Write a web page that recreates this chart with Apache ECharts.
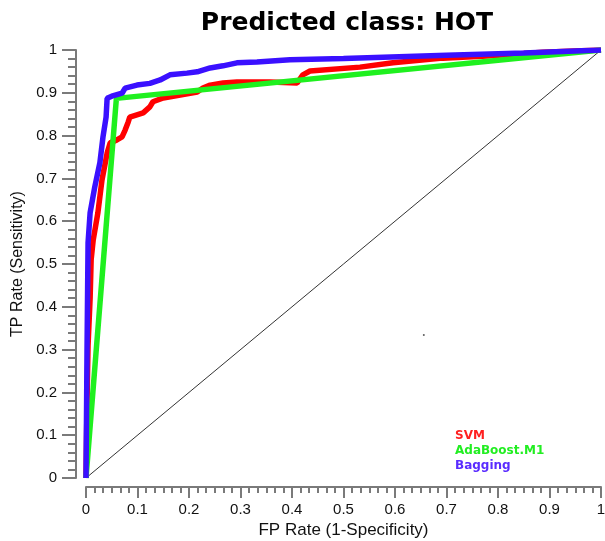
<!DOCTYPE html>
<html>
<head>
<meta charset="utf-8">
<script src="https://cdn.jsdelivr.net/npm/echarts@6/dist/echarts.min.js"></script>
<style>html,body{margin:0;padding:0;background:#fff}#c{width:605px;height:541px}</style>
</head>
<body>
<div id="c"></div>
<script>
const seriesNames = ['SVM', 'AdaBoost.M1', 'Bagging'];
const svmPoints = [
  [0,0],[0.002,0.18],[0.004,0.31],[0.008,0.42],[0.010,0.51],[0.014,0.556],[0.023,0.619],[0.031,0.696],
  [0.041,0.759],[0.047,0.783],[0.060,0.790],[0.070,0.797],[0.076,0.813],[0.082,0.832],[0.085,0.843],
  [0.111,0.853],[0.124,0.867],[0.130,0.879],[0.150,0.888],[0.183,0.895],[0.216,0.902],[0.227,0.911],
  [0.241,0.918],[0.266,0.923],[0.293,0.925],[0.357,0.925],[0.410,0.923],[0.421,0.942],[0.435,0.951],
  [0.532,0.960],[0.596,0.970],[0.693,0.981],[0.779,0.986],[0.887,0.995],[1,1]
];
const adaPoints = [[0,0],[0.059,0.887],[1,1]];
const baggingPoints = [
  [0,0],[0.002,0.30],[0.004,0.55],[0.008,0.62],[0.017,0.68],[0.027,0.737],[0.033,0.797],
  [0.039,0.843],[0.041,0.887],[0.050,0.892],[0.070,0.899],[0.076,0.911],[0.099,0.918],
  [0.124,0.922],[0.144,0.930],[0.163,0.942],[0.196,0.946],[0.216,0.949],[0.241,0.958],
  [0.266,0.963],[0.293,0.970],[0.332,0.972],[0.396,0.977],[0.5,0.980],[0.7,0.988],[0.85,0.993],[1,1]
];
const diagonal = [[0,0],[1,1]];
const strayDot = [[0.656,0.334]];
const xTicks = [0,0.1,0.2,0.3,0.4,0.5,0.6,0.7,0.8,0.9,1];
const yTicks = [0,0.1,0.2,0.3,0.4,0.5,0.6,0.7,0.8,0.9,1];

const tickFmt = ticks => v => {
  const i = ticks.findIndex(t => Math.abs(t - v) < 1e-6);
  return i >= 0 ? String(ticks[i]) : '';
};

const chart = echarts.init(document.getElementById('c'), null, {renderer:'canvas'});
const axisColor = '#7a7a7a';
const labelFont = {fontFamily: 'Liberation Sans', fontSize: 15, color: '#111'};
chart.setOption({
  animation: false,
  backgroundColor: '#fff',
  title: {
    text: 'Predicted class: HOT',
    left: 342, top: 6, textAlign: 'center',
    textStyle: {fontFamily: 'DejaVu Sans', fontWeight: 'bold', fontSize: 25, color: '#000'}
  },
  legend: {
    orient: 'vertical', left: 450, top: 425, itemGap: 3,
    itemWidth: 0, itemHeight: 0, icon: 'rect',
    data: [
      {name: seriesNames[0], textStyle: {color: '#ff2020'}},
      {name: seriesNames[1], textStyle: {color: '#22ee22'}},
      {name: seriesNames[2], textStyle: {color: '#5a2cff'}}
    ],
    textStyle: {fontFamily: 'DejaVu Sans', fontSize: 12, fontWeight: 'bold', padding: [0,0,0,-5]}
  },
  grid: {left: 86, right: 4, top: 50, bottom: 63, containLabel: false, outerBoundsMode: 'none'},
  xAxis: {
    type: 'value', min: 0, max: 1, interval: 0.1, offset: 9,
    name: 'FP Rate (1-Specificity)', nameLocation: 'middle', nameGap: 29,
    nameTextStyle: {fontFamily: 'Liberation Sans', fontSize: 17, color: '#111'},
    axisLine: {show: true, onZero: false, lineStyle: {color: axisColor, width: 2}},
    axisTick: {show: true, length: 11, lineStyle: {color: axisColor, width: 2}},
    minorTick: {show: true, splitNumber: 6, length: 6, lineStyle: {color: axisColor, width: 2}},
    splitLine: {show: false},
    axisLabel: Object.assign({margin: 15, formatter: tickFmt(xTicks)}, labelFont)
  },
  yAxis: {
    type: 'value', min: 0, max: 1, interval: 0.1, offset: 10,
    name: 'TP Rate (Sensitivity)', nameLocation: 'middle', nameGap: 47, nameRotate: 90,
    nameTextStyle: {fontFamily: 'Liberation Sans', fontSize: 16, color: '#111'},
    axisLine: {show: true, onZero: false, lineStyle: {color: axisColor, width: 2}},
    axisTick: {show: true, length: 14, lineStyle: {color: axisColor, width: 2}},
    minorTick: {show: true, splitNumber: 5, length: 8, lineStyle: {color: axisColor, width: 2}},
    splitLine: {show: false},
    axisLabel: Object.assign({margin: 19, formatter: tickFmt(yTicks)}, labelFont)
  },
  series: [
    {type: 'line', name: 'diag', data: diagonal, symbol: 'none', silent: true,
     lineStyle: {color: '#333', width: 1}, z: 1},
    {type: 'scatter', name: 'dot', data: strayDot, symbolSize: 2, itemStyle: {color: '#333'}, z: 1},
    {type: 'line', name: seriesNames[0], data: svmPoints, symbol: 'none',
     lineStyle: {color: '#ff0000', width: 5.5}, itemStyle: {color: '#ff0000'}, z: 2},
    {type: 'line', name: seriesNames[1], data: adaPoints, symbol: 'none',
     lineStyle: {color: '#1ff01f', width: 5.5}, itemStyle: {color: '#1ff01f'}, z: 3},
    {type: 'line', name: seriesNames[2], data: baggingPoints, symbol: 'none',
     lineStyle: {color: '#3a10ff', width: 5.5}, itemStyle: {color: '#3a10ff'}, z: 4}
  ]
});
</script>
</body>
</html>
